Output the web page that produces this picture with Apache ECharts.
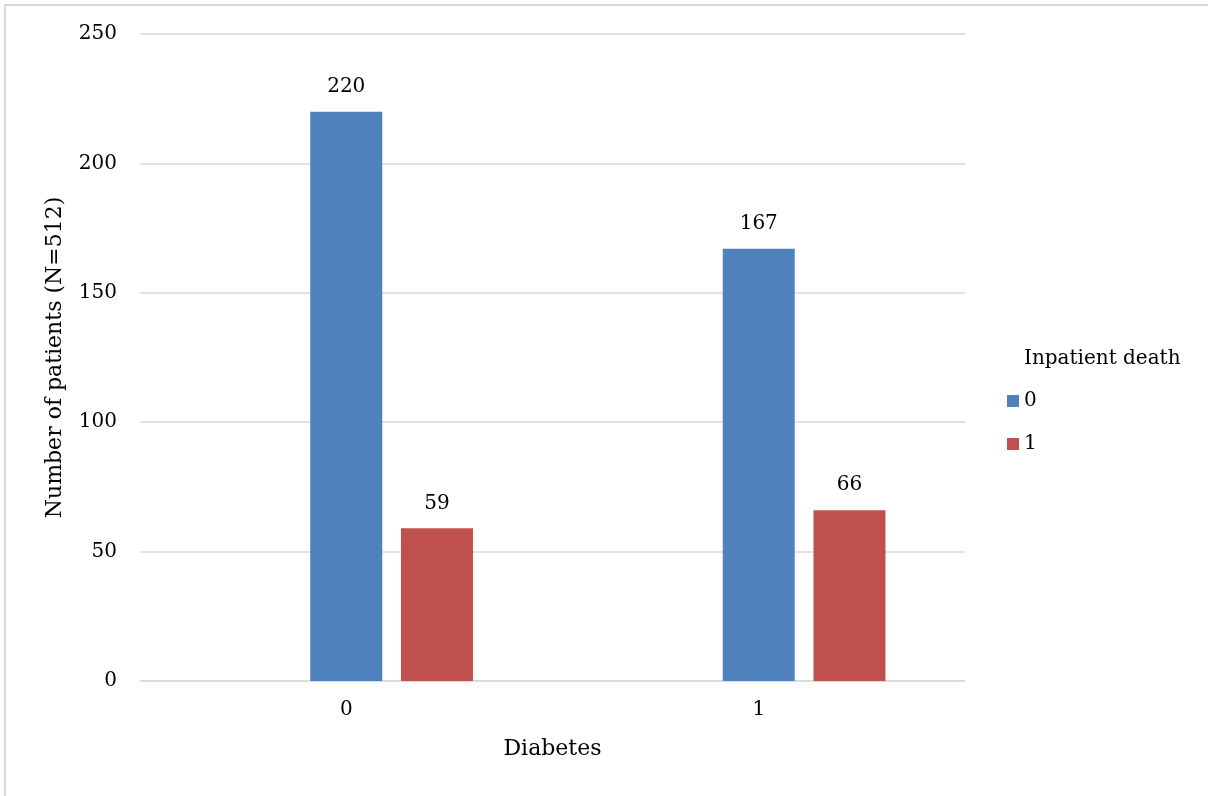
<!DOCTYPE html>
<html>
<head>
<meta charset="utf-8">
<script src="https://cdn.jsdelivr.net/npm/echarts@6/dist/echarts.min.js"></script>
<style>
  html, body { margin: 0; padding: 0; background: #fff; }
  #frame {
    position: absolute; left: 4px; top: 4px; width: 1204px; height: 792px;
    border-left: 2px solid #d9d9d9; border-top: 2px solid #d9d9d9;
    box-sizing: border-box;
  }
  #chart { position: absolute; left: 0; top: 0; width: 1208px; height: 796px; }
</style>
</head>
<body>
<div id="frame"></div>
<div id="chart"></div>
<script>
// Patients by diabetes status, split by inpatient death
const categories = ['0', '1'];            // Diabetes
const survived = [220, 167];              // Inpatient death = 0
const died = [59, 66];                    // Inpatient death = 1
const yTicks = { min: 0, max: 250, interval: 50 };

const FONT = 'DejaVu Serif';
const TEXT = '#000000';

const chart = echarts.init(document.getElementById('chart'), null, { renderer: 'canvas' });

const labelStyle = {
  show: true,
  position: 'top',
  distance: 15,
  fontFamily: FONT,
  fontSize: 20,
  color: TEXT
};

chart.setOption({
  animation: false,
  backgroundColor: 'transparent',
  textStyle: { fontFamily: FONT, color: TEXT },
  title: {
    text: 'Inpatient death',
    left: 1019,
    top: 344,
    textStyle: { fontFamily: FONT, fontSize: 20, fontWeight: 'normal', color: TEXT }
  },
  legend: {
    data: ['0', '1'],
    orient: 'vertical',
    left: 1002,
    top: 386,
    itemWidth: 12,
    itemHeight: 12,
    itemGap: 23,
    icon: 'rect',
    textStyle: { fontFamily: FONT, fontSize: 20, color: TEXT, lineHeight: 20 }
  },
  grid: { left: 140, right: 243, top: 34, bottom: 115, containLabel: false },
  xAxis: {
    type: 'category',
    data: categories,
    name: 'Diabetes',
    nameLocation: 'middle',
    nameGap: 57,
    nameTextStyle: { fontFamily: FONT, fontSize: 22, color: TEXT },
    axisLine: { show: true, lineStyle: { color: '#d9d9d9', width: 1.5 } },
    axisTick: { show: false },
    axisLabel: { fontFamily: FONT, fontSize: 20, color: TEXT, margin: 19 }
  },
  yAxis: {
    type: 'value',
    min: yTicks.min,
    max: yTicks.max,
    interval: yTicks.interval,
    name: 'Number of patients (N=512)',
    nameLocation: 'middle',
    nameGap: 74,
    nameTextStyle: { fontFamily: FONT, fontSize: 22, color: TEXT },
    axisLine: { show: false },
    axisTick: { show: false },
    axisLabel: { fontFamily: FONT, fontSize: 20, color: TEXT, margin: 23 },
    splitLine: { lineStyle: { color: '#d9d9d9', width: 1.5 } }
  },
  series: [
    {
      // empty slot that keeps the two bars offset within each category
      name: 'blank',
      type: 'bar',
      barWidth: 72,
      barGap: '26%',
      data: ['-', '-'],
      silent: true
    },
    {
      name: '0',
      type: 'bar',
      barWidth: 72,
      barGap: '26%',
      itemStyle: { color: '#4f81bd' },
      label: labelStyle,
      data: survived
    },
    {
      name: '1',
      type: 'bar',
      barWidth: 72,
      barGap: '26%',
      itemStyle: { color: '#c0504d' },
      label: labelStyle,
      data: died
    }
  ]
});
</script>
</body>
</html>
